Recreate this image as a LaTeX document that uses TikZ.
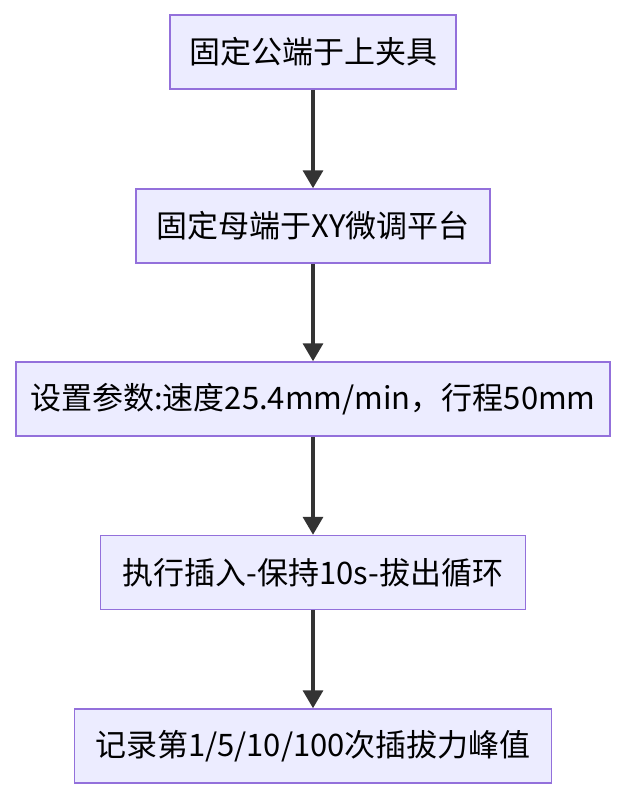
\documentclass[tikz,border=0pt]{standalone}
\usepackage{fontspec}
\setmainfont{Noto Sans CJK SC}
\usetikzlibrary{positioning,arrows.meta}
\definecolor{boxfill}{HTML}{ECECFF}
\definecolor{boxline}{HTML}{9370DB}
\definecolor{arrowc}{HTML}{333333}
\begin{document}
\begin{tikzpicture}[x=1pt,y=-1pt,
	stepbox/.style={draw=boxline, fill=boxfill, line width=1.5pt, minimum height=74pt, inner sep=0pt, font=\fontsize{31}{36}\selectfont},
	flow/.style={-{Triangle[length=18pt,width=20pt]}, draw=arrowc, line width=3.5pt}]
	\useasboundingbox (0,0) rectangle (626,798);
	
	\node[stepbox, minimum width=286pt] (fix) at (313,52) {固定公端于上夹具};
	\node[stepbox, minimum width=354pt] (mount) at (313,226) {固定母端于XY微调平台};
	\node[stepbox, minimum width=594pt] (param) at (313,399) {设置参数:速度25.4mm/min，行程50mm};
	\node[stepbox, minimum width=425pt] (cycle) at (313,572.5) {执行插入-保持10s-拔出循环};
	\node[stepbox, minimum width=477pt] (record) at (313,746) {记录第1/5/10/100次插拔力峰值};
	
	\draw[flow] (fix) -- (mount);
	\draw[flow] (mount) -- (param);
	\draw[flow] (param) -- (cycle);
	\draw[flow] (cycle) -- (record);
\end{tikzpicture}
\end{document}
